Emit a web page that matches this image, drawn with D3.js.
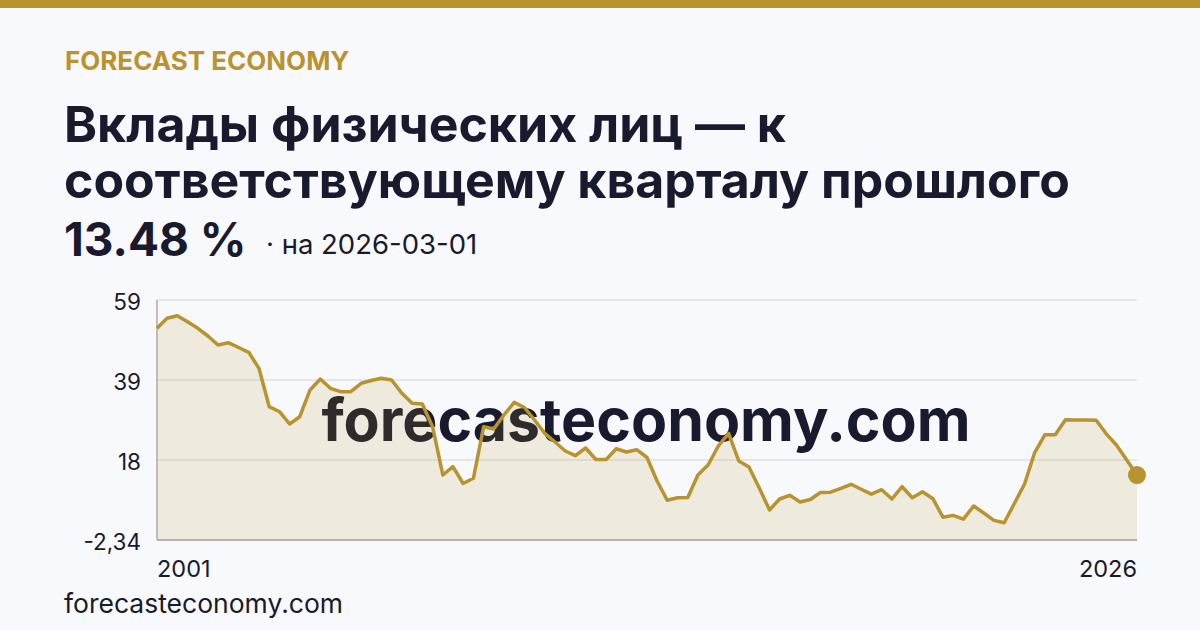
<!DOCTYPE html>
<html>
<head>
<meta charset="utf-8">
<script src="https://cdn.jsdelivr.net/npm/d3@7"></script>
<style>
  html, body { margin: 0; padding: 0; background: #f7f9fc; }
  svg { display: block; font-family: Inter, "Noto Sans", sans-serif; }
</style>
</head>
<body>
<svg id="chart" width="1200" height="630"></svg>
<script>
// ---- data ----
const firstDate = "2001-12-01";   // quarterly observations ending 2026-03-01
const lastDate = "2026-03-01";
const values = [
  51.77, 54.32, 54.99, 53.45, 51.77, 49.80, 47.50, 48.09, 46.86, 45.63,
  41.54, 31.73, 30.45, 27.31, 29.17, 36.00, 38.81, 36.43, 35.56, 35.56,
  37.71, 38.43, 38.99, 38.55, 35.15, 32.60, 32.42, 26.62, 14.27, 16.39,
  12.10, 13.43, 26.62, 26.03, 29.61, 32.85, 31.52, 28.33, 24.93, 22.71,
  20.41, 19.21, 21.17, 18.23, 18.23, 20.99, 20.15, 20.74, 18.75, 12.74,
  7.81, 8.45, 8.52, 14.27, 16.83, 21.68, 24.93, 17.85, 16.32, 10.95,
  5.33, 8.14, 9.08, 7.37, 8.01, 9.80, 9.88, 10.87, 11.90, 10.62,
  9.37, 10.52, 8.14, 11.28, 8.47, 10.00, 8.22, 3.49, 3.95, 2.98,
  6.35, 4.56, 2.67, 2.08, 7.04, 11.97, 20.02, 24.57, 24.57, 28.41,
  28.33, 28.33, 28.25, 24.80, 21.94, 18.11, 14.27, 13.48
];
const yTicks = [-2.34, 18.11, 38.56, 59];
const yTickLabels = ["-2,34", "18", "39", "59"];
const xTickLabels = ["2001", "2026"];
const brand = "FORECAST ECONOMY";
const titleLines = ["Вклады физических лиц — к", "соответствующему кварталу прошлого"];
const headlineValue = "13.48 %";
const headlineDate = "· на 2026-03-01";
const siteName = "forecasteconomy.com";

// ---- setup ----
const gold = "#b8932e";
const ink = "#191a2e";
const svg = d3.select("#chart");
const parse = d3.utcParse("%Y-%m-%d");
const dates = d3.utcMonth.every(3).range(parse(firstDate), d3.utcDay.offset(parse(lastDate), 1));
const data = dates.map((d, i) => ({ date: d, value: values[i] }));

const plotLeft = 157, plotRight = 1137, plotTop = 300, plotBottom = 540;
const x = d3.scaleUtc().domain([dates[0], dates[dates.length - 1]]).range([plotLeft, plotRight]);
const y = d3.scaleLinear().domain([yTicks[0], yTicks[yTicks.length - 1]]).range([plotBottom, plotTop]);

svg.append("rect").attr("width", 1200).attr("height", 630).attr("fill", "#f7f9fc");
svg.append("rect").attr("width", 1200).attr("height", 8).attr("fill", gold);

// header texts
svg.append("text").attr("x", 65).attr("y", 70).attr("fill", gold)
  .attr("font-size", 26).attr("font-weight", 700).text(brand);
svg.selectAll("text.title").data(titleLines).join("text").attr("class", "title")
  .attr("x", 64).attr("y", (d, i) => 142 + i * 56)
  .attr("fill", ink).attr("font-size", 50).attr("font-weight", 700).text(d => d);
svg.append("text").attr("x", 64).attr("y", 256).attr("fill", ink)
  .attr("font-size", 46).attr("font-weight", 700).text(headlineValue);
svg.append("text").attr("x", 266).attr("y", 254).attr("fill", ink)
  .attr("font-size", 27.5).attr("font-weight", 400).text(headlineDate);

// grid
svg.append("g").selectAll("line").data(yTicks.slice(1)).join("line")
  .attr("x1", plotLeft).attr("x2", plotRight)
  .attr("y1", d => y(d)).attr("y2", d => y(d))
  .attr("stroke", "#dfe0e6").attr("stroke-width", 1.5);

// watermark
svg.append("text").attr("x", 646).attr("y", 441).attr("text-anchor", "middle")
  .attr("fill", ink).attr("font-size", 59).attr("font-weight", 700).text(siteName);

// area + line
const area = d3.area().x(d => x(d.date)).y0(y(yTicks[0])).y1(d => y(d.value));
const line = d3.line().x(d => x(d.date)).y(d => y(d.value));
svg.append("path").datum(data).attr("d", area).attr("fill", gold).attr("fill-opacity", 0.14);

// axes lines
svg.append("line").attr("x1", plotLeft).attr("x2", plotRight).attr("y1", plotBottom).attr("y2", plotBottom)
  .attr("stroke", "#b9b2a8").attr("stroke-width", 2);
svg.append("line").attr("x1", plotLeft).attr("x2", plotLeft).attr("y1", plotTop).attr("y2", plotBottom)
  .attr("stroke", "#c2bcb4").attr("stroke-width", 2);

svg.append("path").datum(data).attr("d", line).attr("fill", "none")
  .attr("stroke", gold).attr("stroke-width", 3.5).attr("stroke-linejoin", "round");
const last = data[data.length - 1];
svg.append("circle").attr("cx", x(last.date)).attr("cy", y(last.value)).attr("r", 9).attr("fill", gold);

// y labels
svg.append("g").selectAll("text").data(yTicks).join("text")
  .attr("x", 141).attr("y", d => y(d) + 10).attr("text-anchor", "end")
  .attr("fill", ink).attr("font-size", 22.5).text((d, i) => yTickLabels[i]);

// x labels
svg.append("text").attr("x", x(dates[0])).attr("y", 577).attr("fill", ink)
  .attr("font-size", 23.5).text(xTickLabels[0]);
svg.append("text").attr("x", x(dates[dates.length - 1])).attr("y", 577).attr("text-anchor", "end")
  .attr("fill", ink).attr("font-size", 23.5).text(xTickLabels[1]);

// footer
svg.append("text").attr("x", 64).attr("y", 613).attr("fill", ink)
  .attr("font-size", 26.5).text(siteName);
</script>
</body>
</html>
